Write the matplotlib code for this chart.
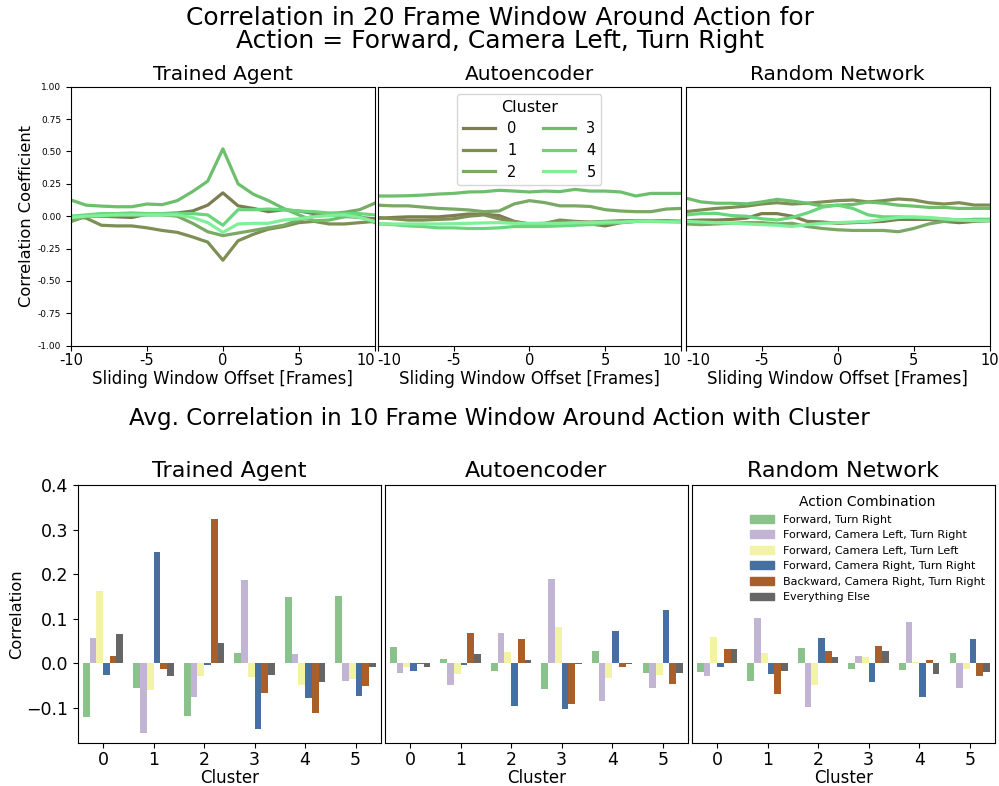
import numpy as np
import matplotlib
matplotlib.use("Agg")
import matplotlib.pyplot as plt
from matplotlib.patches import Patch

# ---- data: sliding window correlations (offsets -10..10) ----
offsets = list(range(-10, 11))
clusters = [0, 1, 2, 3, 4, 5]

trained_lines = [
    [-0.04, 0.0, 0.0, -0.005, -0.01, 0.015, 0.02, 0.025, 0.04, 0.085, 0.18, 0.08, 0.06, 0.035, 0.05, 0.04, 0.02, 0.01, 0.0, -0.01, -0.02],
    [0.0, -0.015, -0.07, -0.075, -0.075, -0.09, -0.11, -0.125, -0.16, -0.2, -0.34, -0.19, -0.14, -0.1, -0.08, -0.05, -0.04, -0.06, -0.06, -0.05, -0.04],
    [-0.04, 0.0, 0.0, 0.005, 0.01, 0.01, 0.01, 0.0, -0.055, -0.12, -0.15, -0.13, -0.11, -0.09, -0.07, -0.03, 0.0, 0.02, 0.03, 0.05, 0.1],
    [0.125, 0.085, 0.078, 0.073, 0.073, 0.094, 0.089, 0.12, 0.19, 0.27, 0.52, 0.25, 0.17, 0.12, 0.06, 0.01, -0.035, -0.03, -0.005, 0.0, -0.05],
    [0.0, 0.01, 0.02, 0.02, 0.025, 0.02, 0.02, 0.02, 0.02, 0.01, -0.07, 0.05, 0.05, 0.055, 0.05, 0.04, 0.035, 0.025, 0.02, 0.02, 0.01],
    [-0.01, 0.0, 0.005, 0.01, 0.01, 0.01, 0.01, 0.01, -0.01, -0.05, -0.125, -0.06, -0.055, -0.055, -0.03, -0.02, -0.005, 0.005, 0.01, -0.01, -0.04],
]
autoenc_lines = [
    [-0.017, -0.01, -0.005, -0.005, -0.005, 0.005, 0.017, 0.015, 0.005, -0.04, -0.06, -0.06, -0.05, -0.06, -0.06, -0.075, -0.05, -0.04, -0.035, -0.035, -0.04],
    [-0.01, -0.02, -0.03, -0.03, -0.025, -0.02, 0.0, 0.01, -0.02, -0.045, -0.06, -0.055, -0.03, -0.04, -0.045, -0.04, -0.035, -0.035, -0.035, -0.04, -0.04],
    [0.085, 0.08, 0.08, 0.07, 0.06, 0.055, 0.048, 0.035, 0.04, 0.095, 0.12, 0.105, 0.08, 0.08, 0.075, 0.05, 0.04, 0.035, 0.035, 0.055, 0.06],
    [0.156, 0.156, 0.158, 0.163, 0.171, 0.176, 0.187, 0.189, 0.2, 0.194, 0.187, 0.194, 0.19, 0.207, 0.194, 0.194, 0.187, 0.156, 0.176, 0.176, 0.176],
    [-0.06, -0.065, -0.075, -0.08, -0.09, -0.09, -0.095, -0.095, -0.09, -0.08, -0.08, -0.08, -0.075, -0.07, -0.065, -0.055, -0.05, -0.04, -0.035, -0.04, -0.045],
    [-0.055, -0.06, -0.06, -0.06, -0.06, -0.058, -0.055, -0.052, -0.05, -0.055, -0.055, -0.055, -0.055, -0.05, -0.05, -0.045, -0.045, -0.04, -0.04, -0.045, -0.045],
]
random_lines = [
    [-0.035, -0.03, -0.03, -0.025, -0.015, 0.02, 0.02, 0.0, -0.04, -0.045, -0.055, -0.05, -0.045, -0.04, -0.025, -0.025, -0.025, -0.04, -0.05, -0.04, -0.035],
    [0.035, 0.048, 0.06, 0.068, 0.078, 0.094, 0.104, 0.094, 0.1, 0.11, 0.12, 0.125, 0.11, 0.12, 0.133, 0.125, 0.104, 0.094, 0.104, 0.086, 0.086],
    [-0.06, -0.065, -0.06, -0.055, -0.05, -0.05, -0.06, -0.055, -0.08, -0.095, -0.105, -0.11, -0.11, -0.11, -0.12, -0.095, -0.06, -0.04, -0.03, -0.025, -0.025],
    [0.14, 0.11, 0.1, 0.1, 0.095, 0.11, 0.13, 0.117, 0.1, 0.078, 0.085, 0.09, 0.11, 0.1, 0.085, 0.078, 0.068, 0.068, 0.06, 0.06, 0.06],
    [0.01, 0.02, 0.022, 0.005, 0.0, -0.02, -0.03, -0.01, 0.025, 0.07, 0.085, 0.06, 0.01, -0.005, -0.005, -0.01, -0.015, -0.02, -0.03, -0.025, -0.025],
    [-0.04, -0.045, -0.05, -0.055, -0.06, -0.065, -0.07, -0.08, -0.065, -0.055, -0.05, -0.045, -0.04, -0.025, -0.01, -0.005, -0.01, -0.02, -0.03, -0.035, -0.035],
]

# ---- data: average correlation per cluster and action combination ----
actions = ["Forward, Turn Right", "Forward, Camera Left, Turn Right",
           "Forward, Camera Left, Turn Left", "Forward, Camera Right, Turn Right",
           "Backward, Camera Right, Turn Right", "Everything Else"]
# rows = action, columns = cluster 0..5
trained_bars = [
    [-0.12, -0.055, -0.118, 0.023, 0.149, 0.151],
    [0.057, -0.156, -0.076, 0.187, 0.021, -0.04],
    [0.163, -0.061, -0.028, -0.031, -0.049, -0.035],
    [-0.026, 0.25, -0.004, -0.147, -0.078, -0.073],
    [0.016, -0.013, 0.324, -0.068, -0.112, -0.051],
    [0.066, -0.028, 0.046, -0.026, -0.042, -0.008],
]
autoenc_bars = [
    [0.037, 0.01, -0.017, -0.058, 0.028, -0.022],
    [-0.022, -0.049, 0.068, 0.19, -0.085, -0.055],
    [-0.008, -0.024, 0.025, 0.082, -0.033, -0.026],
    [-0.017, -0.004, -0.096, -0.103, 0.073, 0.12],
    [-0.002, 0.068, 0.055, -0.091, -0.008, -0.046],
    [-0.008, 0.021, 0.007, -0.002, -0.002, -0.022],
]
random_bars = [
    [-0.019, -0.04, 0.034, -0.013, -0.015, 0.023],
    [-0.028, 0.102, -0.098, 0.016, 0.093, -0.055],
    [0.059, 0.023, -0.049, 0.014, 0.003, -0.013],
    [-0.008, -0.024, 0.057, -0.042, -0.076, 0.055],
    [0.032, -0.069, 0.028, 0.039, 0.007, -0.028],
    [0.032, -0.017, 0.014, 0.028, -0.024, -0.019],
]

panel_names = ["Trained Agent", "Autoencoder", "Random Network"]
line_colors = ["#7d7d52", "#7e8f55", "#7aa865", "#6dbf6d", "#6ad67c", "#80ef9a"]
bar_colors = ["#8bc28b", "#c2b4d3", "#f3f3a4", "#4670a2", "#aa5f2b", "#666666"]

fig = plt.figure(figsize=(9.99, 7.86), dpi=100)

# ---- top row: line plots ----
top_lefts = [0.0711, 0.378, 0.6865]
for i, (name, data) in enumerate(zip(panel_names, [trained_lines, autoenc_lines, random_lines])):
    ax = fig.add_axes([top_lefts[i], 0.5602, 0.304, 0.3295])
    for c, vals, col in zip(clusters, data, line_colors):
        ax.plot(offsets, vals, color=col, lw=2.3, label=str(c))
    ax.set_xlim(-10, 10)
    ax.set_ylim(-1, 1)
    ax.set_xticks([-10, -5, 0, 5, 10])
    labels = ax.set_xticklabels(["-10", "-5", "0", "5", "10"], fontsize=10.5)
    # neighbouring panels touch, so the edge labels sit side by side ("10-10")
    if i < 2:
        labels[-1].set_horizontalalignment("right")
    if i > 0:
        labels[0].set_horizontalalignment("left")
    ax.tick_params(axis="x", pad=2)
    ax.set_yticks(np.arange(-1, 1.01, 0.25))
    if i == 0:
        ax.set_yticklabels(["%.2f" % v for v in np.arange(-1, 1.01, 0.25)], fontsize=6.5)
        ax.set_ylabel("Correlation Coefficient", fontsize=11.7, labelpad=3)
    else:
        ax.set_yticks([])
    ax.set_xlabel("Sliding Window Offset [Frames]", fontsize=12, labelpad=1)
    ax.set_title(name, fontsize=14.5, pad=5)
    if i == 1:
        ax.legend(title="Cluster", ncol=2, loc="upper center", fontsize=10.5,
                  title_fontsize=11.5, handlelength=2.2, columnspacing=1.8,
                  labelspacing=0.45)

fig.text(0.5, 0.992, "Correlation in 20 Frame Window Around Action for\nAction = Forward, Camera Left, Turn Right",
         ha="center", va="top", fontsize=18, linespacing=0.93)
fig.text(0.5, 0.468, "Avg. Correlation in 10 Frame Window Around Action with Cluster",
         ha="center", va="center", fontsize=16.6)

# ---- bottom row: grouped bars ----
bot_lefts = [0.0778, 0.3852, 0.6925]
n = len(actions)
bw = 0.8 / n
for i, (name, data) in enumerate(zip(panel_names, [trained_bars, autoenc_bars, random_bars])):
    ax = fig.add_axes([bot_lefts[i], 0.0543, 0.3035, 0.3287])
    x = np.arange(len(clusters))
    for j, (act, vals, col) in enumerate(zip(actions, data, bar_colors)):
        ax.bar(x - 0.4 + bw * (j + 0.5), vals, width=bw, color=col, label=act)
    ax.set_xlim(-0.5, 5.5)
    ax.set_ylim(-0.18, 0.4)
    ax.set_xticks(x)
    ax.set_xticklabels([str(c) for c in clusters], fontsize=12.5)
    ax.tick_params(axis="x", pad=2)
    ax.set_xlabel("Cluster", fontsize=12, labelpad=0)
    ax.set_title(name, fontsize=16, pad=6)
    if i == 0:
        ax.set_yticks([-0.1, 0.0, 0.1, 0.2, 0.3, 0.4])
        ax.tick_params(axis="y", labelsize=12.5)
        ax.set_ylabel("Correlation", fontsize=11.7, labelpad=1)
    else:
        ax.set_yticks([])
    if i == 2:
        handles = [Patch(color=c) for c in bar_colors]
        ax.legend(handles, actions, title="Action Combination", loc="upper right",
                  fontsize=8, title_fontsize=10, frameon=False, handlelength=2.2)

fig.savefig("out.png", dpi=100)
